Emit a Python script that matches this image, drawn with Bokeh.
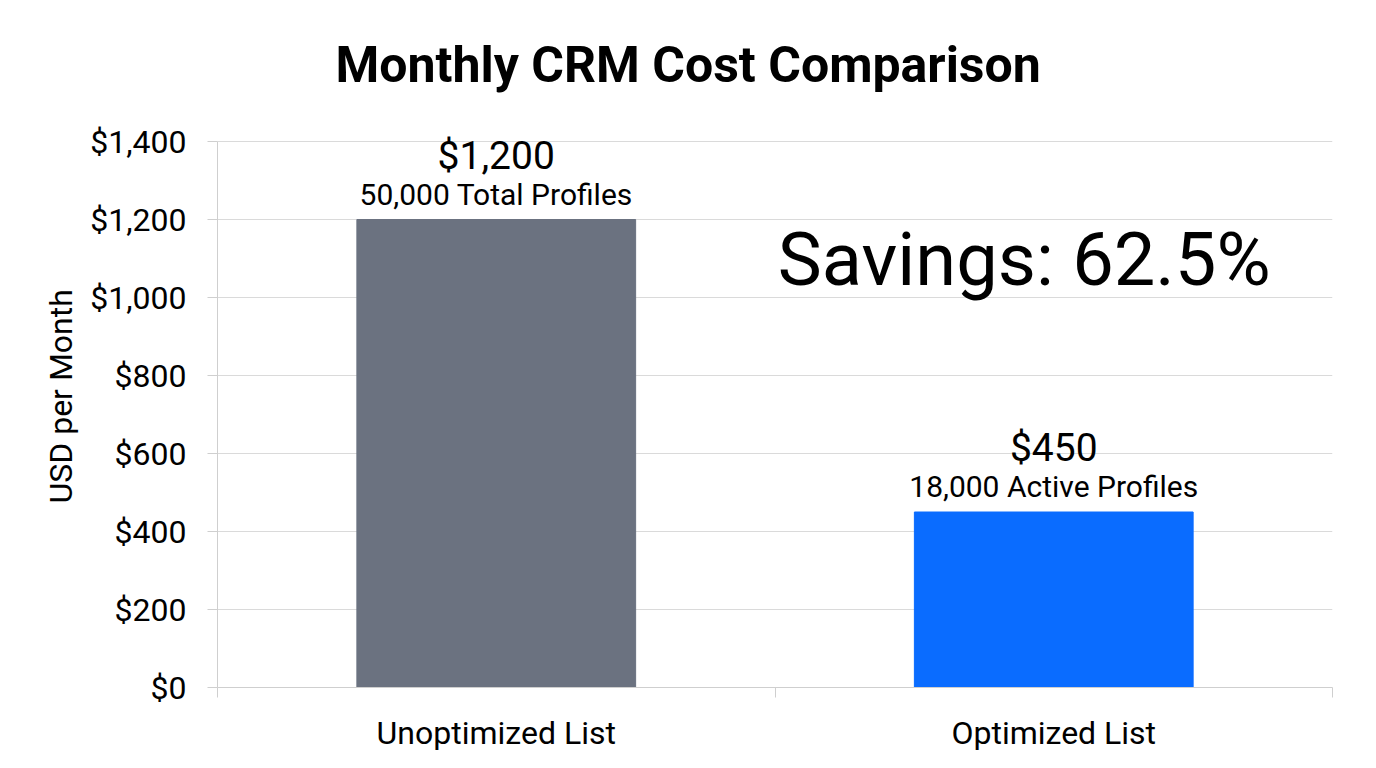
from bokeh.plotting import figure
from bokeh.models import (ColumnDataSource, FixedTicker, NumeralTickFormatter,
                          Label, LabelSet, Title, Range1d)
from bokeh.core.properties import value
from bokeh.embed import file_html
from bokeh.resources import INLINE

categories = ["Unoptimized List", "Optimized List"]
costs = [1200, 450]
cost_labels = ["$1,200", "$450"]
profile_labels = ["50,000 Total Profiles", "18,000 Active Profiles"]
bar_colors = ["#6B7280", "#0A6CFF"]
y_ticks = [0, 200, 400, 600, 800, 1000, 1200, 1400]
savings_text = "Savings: 62.5%"
y_label = "USD per Month"

FONT = "Roboto"
xs = [i + 0.5 for i in range(len(categories))]
y_max = y_ticks[-1]
y_head = 100  # headroom above the top tick so labels are not clipped

src = ColumnDataSource(dict(x=xs, top=costs, color=bar_colors,
                            vlab=cost_labels, plab=profile_labels))

p = figure(width=1360, height=752, output_backend="svg", toolbar_location=None,
           x_range=Range1d(0, len(categories)), y_range=Range1d(0, y_max + y_head),
           frame_width=1115, frame_height=585,
           min_border_left=217, min_border_right=28,
           min_border_top=102, min_border_bottom=65)
p.outline_line_color = None
p.background_fill_color = "white"
p.border_fill_color = "white"

t = Title(text="Monthly CRM Cost Comparison", align="left", offset=118,
          text_font=FONT, text_font_size="50px", text_font_style="bold",
          text_color="#000000", standoff=18)
p.add_layout(t, "above")

p.vbar(x="x", top="top", width=0.5, bottom=0, color="color", source=src)

p.add_layout(LabelSet(x="x", y="top", text="plab", source=src, y_offset=15,
                      text_align="center", text_baseline="alphabetic",
                      text_font=value(FONT), text_font_size="30px",
                      text_color="#000000"))
p.add_layout(LabelSet(x="x", y="top", text="vlab", source=src, y_offset=51,
                      text_align="center", text_baseline="alphabetic",
                      text_font=value(FONT), text_font_size="39px",
                      text_color="#000000"))

p.add_layout(Label(x=1.005, y=1098, text=savings_text, text_font=FONT,
                   text_font_size="74px", text_baseline="alphabetic",
                   text_align="left", text_color="#000000"))

# y axis
p.yaxis.ticker = FixedTicker(ticks=y_ticks)
p.yaxis.bounds = (0, y_max)
p.yaxis.formatter = NumeralTickFormatter(format="$0,0")
p.yaxis.major_label_text_font = FONT
p.yaxis.major_label_text_font_size = "32px"
p.yaxis.major_label_text_color = "#000000"
p.yaxis.major_label_standoff = 21
p.yaxis.axis_line_color = "#CFCFCF"
p.yaxis.major_tick_line_color = "#CFCFCF"
p.yaxis.major_tick_out = 10
p.yaxis.major_tick_in = 0
p.yaxis.minor_tick_line_color = None

ylab = Title(text=y_label, align="left", offset=184, text_font=FONT,
             text_font_size="32px", text_font_style="normal",
             text_color="#000000", standoff=16)
p.add_layout(ylab, "left")

# x axis
p.xaxis.ticker = FixedTicker(ticks=xs, minor_ticks=list(range(len(categories) + 1)))
p.xaxis.major_label_overrides = {x: c for x, c in zip(xs, categories)}
p.xaxis.major_label_text_font = FONT
p.xaxis.major_label_text_font_size = "32px"
p.xaxis.major_label_text_color = "#000000"
p.xaxis.major_label_standoff = 16
p.xaxis.axis_line_color = "#CFCFCF"
p.xaxis.major_tick_line_color = None
p.xaxis.minor_tick_line_color = "#CFCFCF"
p.xaxis.minor_tick_out = 10
p.xaxis.minor_tick_in = 0

p.xgrid.grid_line_color = None
p.ygrid.grid_line_color = "#DADADA"
p.ygrid.grid_line_width = 1

open("out.html", "w").write(file_html(p, INLINE))
